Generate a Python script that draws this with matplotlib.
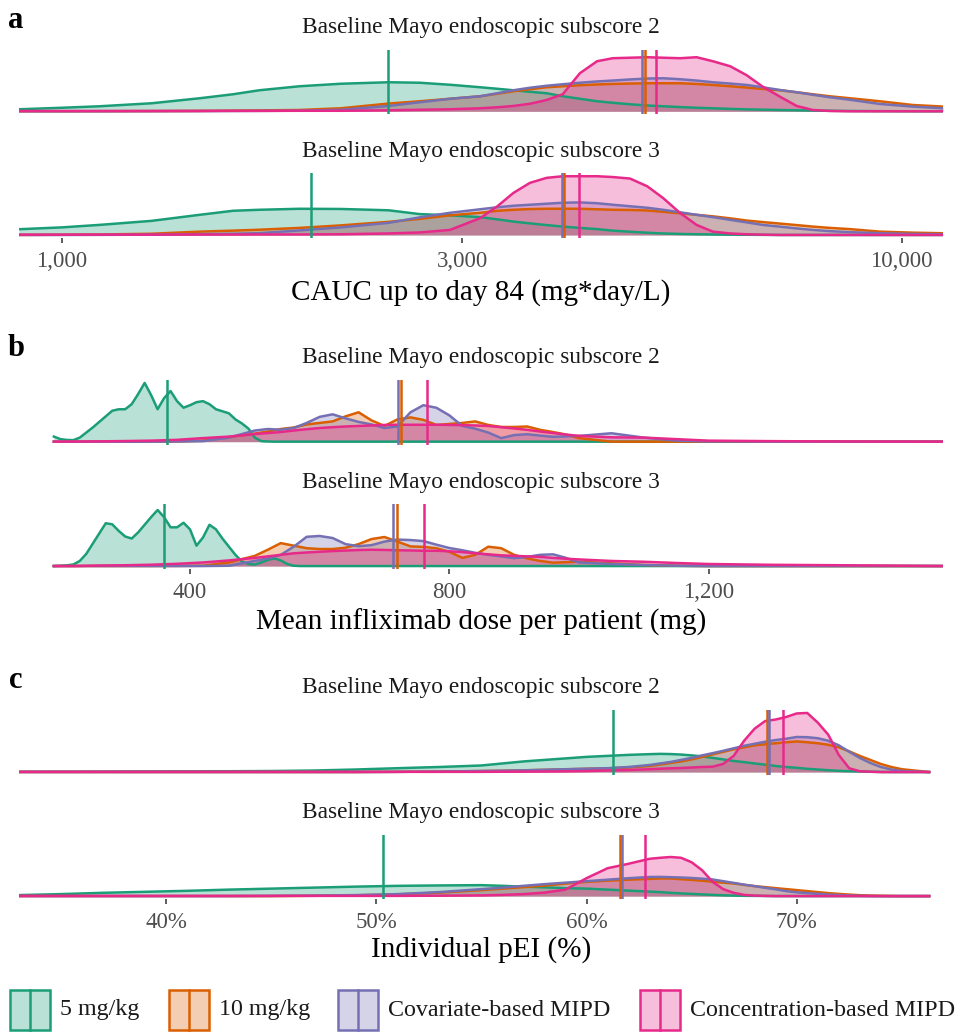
import matplotlib
matplotlib.use('Agg')
import matplotlib.pyplot as plt
from matplotlib.patches import Rectangle
from matplotlib.lines import Line2D
from matplotlib.ticker import FixedLocator, NullLocator

plt.rcParams['font.family'] = ['Liberation Serif', 'DejaVu Serif']

groups = ['5 mg/kg', '10 mg/kg', 'Covariate-based MIPD', 'Concentration-based MIPD']
colors = ['#1B9E77', '#D95F02', '#7570B3', '#E7298A']
facets = ['Baseline Mayo endoscopic subscore 2', 'Baseline Mayo endoscopic subscore 3']

# ---- a: cumulative AUC up to day 84 (density on log10 scale) ----
cauc_grid = [890, 1000, 1110, 1280, 1460, 1600, 1720, 1920, 2150, 2450, 2670, 2900, 3150,
             3300, 3450, 3610, 3780, 3950, 4140, 4340, 4530, 4750, 4980, 5200, 5450, 5700,
             5960, 6250, 6540, 6830, 7160, 7500, 7840, 8210, 8680, 9420, 10300, 11200]

cauc_s2_5mg = [2, 3.5, 5, 8, 13, 17, 21, 25, 27.5, 29, 28.5, 26.5, 24, 22.5, 21, 19.5, 18, 15, 12.5,
               10, 8.5, 7, 5.8, 5, 4.2, 3.5, 3, 2.4, 1.9, 1.6, 1.3, 1, 0.7, 0.5, 0.3, 0.1, 0, 0]
cauc_s2_10mg = [0, 0, 0.1, 0.2, 0.4, 0.6, 0.9, 1.3, 3, 7.7, 10, 12.5, 15, 17.5, 20, 22, 24, 25, 26,
                26.8, 27.3, 27.7, 28, 28, 28, 27.3, 26.3, 25, 23.7, 22.3, 21, 19, 17, 15, 13, 10, 6.3, 4.7]
cauc_s2_cov = [0, 0, 0, 0.1, 0.2, 0.3, 0.4, 0.6, 1.5, 5.3, 9, 12.5, 15, 18, 21, 23.5, 25.5, 27, 28.5,
               29.8, 30.7, 31.8, 32.7, 33, 32, 30.7, 29, 27.7, 26.3, 24, 21.3, 19, 16.5, 14, 11.5, 7.3, 4.7, 3]
cauc_s2_conc = [0.3, 0.3, 0.3, 0.3, 0.3, 0.4, 0.4, 0.5, 0.5, 1, 1.5, 2, 3, 4, 5.3, 7.5, 11.3, 17, 38,
                50, 53, 53.5, 54, 53.5, 53, 54, 50, 45, 36, 24.7, 14.7, 5.3, 1.3, 0.3, 0, 0, 0, 0]

cauc_s3_5mg = [5.7, 7.5, 10, 14, 20, 24, 25, 26, 25.8, 24.5, 20.7, 19.5, 17.7, 15.5, 13.3, 11.5, 9.8, 8.3,
               7, 5.8, 4.3, 3.2, 2.2, 1.5, 1, 0.7, 0.5, 0.3, 0.2, 0.1, 0, 0, 0, 0, 0, 0, 0, 0]
cauc_s3_10mg = [0, 0.2, 0.5, 1.2, 3.3, 4.3, 5.2, 7, 9.5, 13, 16, 19.5, 22, 24, 25, 25.7, 26, 26, 26,
                25.5, 25, 24.8, 24.3, 23, 21.5, 20, 18.5, 16.5, 14.3, 12.8, 11.3, 9.8, 8.3, 7, 5.8, 3.3, 2.3, 1.7]
cauc_s3_cov = [0, 0, 0.1, 0.3, 0.8, 1.2, 1.8, 4.5, 7.5, 12, 17.5, 22, 25.5, 27.5, 29, 30, 31, 32, 32.3,
               31.5, 30, 28.5, 27, 25, 22.5, 20, 17.7, 15, 12.5, 10, 8.3, 6.5, 5, 3.8, 2.8, 1.7, 1, 0.7]
cauc_s3_conc = [0.3, 0.3, 0.3, 0.3, 0.4, 0.4, 0.5, 0.5, 0.7, 1.5, 2.5, 5, 16.7, 28.3, 41.7, 51.7, 56.7,
                58.3, 58.3, 58.3, 57.5, 56, 48.3, 36.7, 21.7, 10, 3.3, 1.5, 0.7, 0.3, 0, 0, 0, 0, 0, 0, 0, 0]

cauc_med_s2 = [2450, 4950, 4910, 5100]
cauc_med_s3 = [1980, 3960, 3940, 4130]

# ---- b: mean infliximab dose per patient (mg) ----
dose_grid_5mg = [190, 200, 210, 220, 230, 240, 250, 260, 270, 280, 290, 300, 310, 320, 330, 340,
                 350, 360, 370, 380, 390, 400, 410, 420, 430, 440, 450, 460, 470, 480, 490, 500,
                 510, 520, 530, 540, 550, 560, 570, 580, 590, 600, 1560]
dose_grid = [190, 220, 260, 300, 340, 380, 420, 460, 500, 520, 540, 560, 580, 600, 620, 640, 660,
             680, 700, 720, 740, 760, 780, 800, 820, 840, 860, 880, 900, 920, 940, 960, 980, 1000,
             1050, 1100, 1150, 1200, 1300, 1400, 1560]

dose_s2_5mg = [5, 2.5, 1.7, 1.5, 4, 9, 14, 19.5, 25, 30.5, 32, 32, 37, 47, 58, 46, 32, 43, 50, 40,
               33.5, 36, 39, 40, 37, 32, 30, 28, 22, 18, 13, 4, 0.5, 0.2, 0, 0, 0, 0, 0, 0, 0, 0, 0]
dose_s2_10mg = [0, 0, 0, 0, 0, 0.2, 1, 4.5, 8, 10, 12.5, 14, 17, 18.5, 20, 25, 29, 21, 15.5, 22, 24,
                21.5, 16.5, 17.5, 18.5, 20, 16.5, 14.5, 14.5, 15, 11.7, 9.5, 7, 3.5, 0, 0, 0, 0, 0, 0, 0]
dose_s2_cov = [0, 0, 0, 0, 0, 0.2, 0.5, 4, 11, 12.5, 11.8, 13.5, 18.5, 24.5, 27, 23, 19.5, 17, 13.5,
               15, 29, 36, 33.5, 26, 15.5, 12.8, 9, 3.5, 6.5, 7.3, 6, 4.8, 5.2, 5.7, 8.3, 4, 1, 0.2, 0, 0, 0]
dose_s2_conc = [0, 0.1, 0.3, 0.6, 1, 1.8, 3.5, 5, 7.5, 8.5, 9.5, 11, 12.3, 13.5, 14.3, 15, 15.5, 16,
                16.5, 16.7, 16.7, 16.7, 16.7, 16.5, 16.3, 16, 15.5, 14.3, 13, 11.7, 10, 8.5, 7, 5.7,
                4.3, 4, 2.5, 1, 0.5, 0.2, 0]

dose_s3_5mg = [0, 0.3, 0.7, 1.5, 5, 12, 22, 32, 42, 41, 34.5, 29, 27, 33, 40.5, 48, 55, 48, 38, 38,
               42.5, 36, 20, 28, 40.5, 36, 27, 19, 11, 4.5, 2, 1.5, 3.5, 6, 7.5, 5.5, 2, 0.3, 0, 0, 0, 0, 0]
dose_s3_10mg = [0, 0, 0, 0, 0, 0.1, 0.3, 3.5, 10, 16, 22.5, 20, 17.5, 16.7, 16.7, 18, 21.5, 26.5,
                28.5, 24, 19.3, 18.8, 17.5, 14, 8, 11, 19, 17.5, 11, 7.5, 5, 3.3, 3.8, 4.3, 2.7, 1.1,
                0.3, 0, 0, 0, 0]
dose_s3_cov = [0, 0, 0, 0, 0, 0, 0, 0.3, 5, 7.5, 11, 19, 28.7, 29.5, 27.5, 21.5, 19.5, 20.5, 24, 26,
               25.5, 24.5, 21, 17.7, 15.5, 13, 11, 9.5, 7.7, 9, 11, 11.5, 8, 3.5, 2, 1, 0.3, 0, 0, 0, 0]
dose_s3_conc = [0, 0, 0.5, 0.8, 1.3, 2.2, 3.5, 5.5, 8, 9.5, 11, 12.5, 13.3, 14, 14.7, 15.2, 15.7, 16,
                15.8, 15.5, 15.3, 15, 15, 14.5, 13.7, 12.5, 11.5, 10.5, 10, 9.5, 9, 8, 7.2, 6.5, 5,
                4.2, 3, 2, 1.2, 0.8, 0]

dose_med_s2 = [364, 726, 721, 765]
dose_med_s3 = [360, 719, 713, 761]

# ---- c: individual probability of endoscopic improvement (%) ----
pei_grid = [33, 35, 37, 39, 41, 43, 45, 47, 49, 51, 53, 55, 56, 57, 58, 59, 60, 61, 62, 63, 63.5,
            64, 64.5, 65, 65.5, 66, 66.5, 67, 67.5, 68, 68.5, 69, 69.5, 70, 70.5, 71, 71.5, 72,
            72.5, 73, 73.5, 74, 74.5, 75, 76.3]

pei_s2_5mg = [0.3, 0.4, 0.5, 0.6, 0.7, 0.8, 1, 1.5, 2.5, 3.8, 5, 6.5, 8.5, 10.5, 12, 13.5, 15, 16,
              17, 17.7, 18, 17.8, 17.3, 16.5, 15.5, 14, 12.5, 11, 9.8, 8.5, 7.3, 6, 5, 4.2, 3.2,
              2.5, 1.8, 1.2, 0.8, 0.6, 0.3, 0.1, 0, 0, 0]
pei_s2_10mg = [0, 0, 0, 0, 0, 0, 0, 0, 0, 0.2, 0.5, 1, 1.3, 1.7, 2.2, 2.7, 3.2, 3.7, 4.5, 6, 7.5, 9,
               10.5, 12.5, 15, 17.5, 20, 22.5, 24.5, 26.5, 27.5, 28.5, 29.5, 30.3, 29.5, 28.5, 27,
               24.5, 20.5, 16, 12, 8, 5, 2.8, 0]
pei_s2_cov = [0, 0, 0, 0, 0, 0, 0, 0, 0, 0.2, 0.5, 1, 1.3, 1.7, 2.2, 2.8, 3.3, 3.8, 5, 7, 8.5, 10,
              12, 14, 16.5, 18.7, 21, 23.5, 26, 28, 30, 31.7, 33, 34.7, 34.5, 33.5, 31, 26.5, 20,
              14, 9, 5, 2.5, 1, 0]
pei_s2_conc = [0.2, 0.2, 0.2, 0.2, 0.2, 0.2, 0.2, 0.2, 0.2, 0.2, 0.2, 0.2, 0.3, 0.4, 0.5, 0.7, 1,
               1.5, 2, 2.8, 3.3, 3.7, 4, 4.5, 5, 5.3, 8, 16, 31, 43, 50.5, 52, 54.5, 58, 58.5, 49,
               37, 17, 3.7, 0.8, 0.3, 0, 0, 0, 0]

pei_s3_5mg = [1, 2, 3.3, 4.3, 5.3, 6.5, 7.5, 8.5, 9.5, 10.3, 10.7, 11, 10.3, 9.5, 8.8, 8, 7.5, 6.5,
              5.5, 4.5, 4, 3.3, 2.7, 2.2, 1.7, 1.2, 0.8, 0.5, 0.3, 0.2, 0.1, 0, 0, 0, 0, 0, 0, 0,
              0, 0, 0, 0, 0, 0, 0]
pei_s3_10mg = [0, 0, 0, 0, 0, 0, 0, 0.3, 0.8, 1.7, 3.5, 6, 7.5, 9, 10.5, 12.5, 14.3, 15.5, 16.5,
               17.3, 17.7, 17.7, 17, 16.3, 15.5, 14.5, 13.5, 12.7, 11.3, 10, 9, 8, 7, 6, 5, 4, 3,
               2.2, 1.5, 0.9, 0.5, 0.3, 0.1, 0, 0]
pei_s3_cov = [0, 0, 0, 0, 0, 0, 0.2, 0.5, 1, 2, 4, 7, 8.5, 10.3, 12, 13.5, 15, 16.5, 18, 19.2, 19.3,
              19, 18.7, 18.2, 17.5, 16.7, 15, 13.3, 11.5, 10, 8.3, 6.8, 5, 3.8, 3, 2.3, 1.5, 1,
              0.6, 0.3, 0.1, 0, 0, 0, 0]
pei_s3_conc = [0.2, 0.2, 0.2, 0.2, 0.2, 0.2, 0.2, 0.2, 0.2, 0.2, 0.4, 0.7, 1.2, 2, 3.5, 6.5, 18, 28,
               32.5, 37.5, 38.5, 39.3, 38.5, 34, 26, 14.3, 7, 3.3, 1.2, 0.5, 0.2, 0, 0, 0, 0, 0, 0,
               0, 0, 0, 0, 0, 0, 0, 0]

pei_med_s2 = [61.25, 68.6, 68.7, 69.34]
pei_med_s3 = [50.32, 61.57, 61.68, 62.79]

W, H = 962, 1036
LW = 1.8
fig = plt.figure(figsize=(W / 100, H / 100), dpi=100)


def px_axes(top, bottom, left=19, right=943):
    return fig.add_axes([left / W, 1 - bottom / H, (right - left) / W, (bottom - top) / H])


def fig_text(x, y, s, **kw):
    fig.text(x / W, 1 - y / H, s, **kw)


panels = [
    dict(letter='a', letter_y=20,
         rows=[(50, 114.2, 27), (173.3, 237.9, 151.7)],
         grids=[[cauc_grid] * 4, [cauc_grid] * 4],
         dens=[[cauc_s2_5mg, cauc_s2_10mg, cauc_s2_cov, cauc_s2_conc],
               [cauc_s3_5mg, cauc_s3_10mg, cauc_s3_cov, cauc_s3_conc]],
         meds=[cauc_med_s2, cauc_med_s3],
         log=True, xlim=(890, 11200),
         ticks=[1000, 3000, 10000], ticklabels=['1,000', '3,000', '10,000'],
         title='CAUC up to day 84 (mg*day/L)', title_y=293),
    dict(letter='b', letter_y=348,
         rows=[(380, 444.6, 358), (504, 569, 482)],
         grids=[[dose_grid_5mg, dose_grid, dose_grid, dose_grid]] * 2,
         dens=[[dose_s2_5mg, dose_s2_10mg, dose_s2_cov, dose_s2_conc],
               [dose_s3_5mg, dose_s3_10mg, dose_s3_cov, dose_s3_conc]],
         meds=[dose_med_s2, dose_med_s3],
         log=False, xlim=(136.2, 1561.5),
         ticks=[400, 800, 1200], ticklabels=['400', '800', '1,200'],
         title='Mean infliximab dose per patient (mg)', title_y=622),
    dict(letter='c', letter_y=680,
         rows=[(710, 775, 688), (835, 899, 812.7)],
         grids=[[pei_grid] * 4, [pei_grid] * 4],
         dens=[[pei_s2_5mg, pei_s2_10mg, pei_s2_cov, pei_s2_conc],
               [pei_s3_5mg, pei_s3_10mg, pei_s3_cov, pei_s3_conc]],
         meds=[pei_med_s2, pei_med_s3],
         log=False, xlim=(33.0, 76.96),
         ticks=[40, 50, 60, 70], ticklabels=['40%', '50%', '60%', '70%'],
         title='Individual pEI (%)', title_y=950),
]

for p in panels:
    ymax = max(max(d) for row in p['dens'] for d in row)
    for r, (top, bottom, strip_y) in enumerate(p['rows']):
        ax = px_axes(top, bottom)
        if p['log']:
            ax.set_xscale('log')
        for xs, ys, col in zip(p['grids'][r], p['dens'][r], colors):
            ax.fill_between(xs, 0, ys, color=col, alpha=0.3, lw=0)
            ax.plot(xs, ys, color=col, lw=LW, solid_joinstyle='round')
        for m, col in zip(p['meds'][r], colors):
            ax.axvline(m, color=col, lw=LW)
        ax.set_xlim(*p['xlim'])
        ax.set_ylim(-0.05 * ymax, 1.05 * ymax)
        ax.set_yticks([])
        for s in ax.spines.values():
            s.set_visible(False)
        ax.patch.set_visible(False)
        ax.xaxis.set_minor_locator(NullLocator())
        if r == 1:
            ax.xaxis.set_major_locator(FixedLocator(p['ticks']))
            ax.set_xticklabels(p['ticklabels'])
            ax.tick_params(axis='x', length=3.6, width=1.1, color='#333333',
                           labelsize=16.5, labelcolor='#4D4D4D', pad=6)
        else:
            ax.set_xticks([])
        fig_text(481, strip_y, facets[r], ha='center', va='center',
                 fontsize=16.8, color='#1A1A1A')
    fig_text(481, p['title_y'], p['title'], ha='center', va='center', fontsize=21)
    fig_text(16, p['letter_y'], p['letter'], ha='center', va='center',
             fontsize=22, fontweight='bold')

# legend along the bottom
key_left = [10, 169, 338, 640]
key_top, key_size = 990, 40
for x0, lab, col in zip(key_left, groups, colors):
    fx, fy = x0 / W, 1 - (key_top + key_size) / H
    fw, fh = key_size / W, key_size / H
    fig.add_artist(Rectangle((fx, fy), fw, fh, transform=fig.transFigure,
                             facecolor=col, alpha=0.3, lw=0))
    fig.add_artist(Rectangle((fx, fy), fw, fh, transform=fig.transFigure,
                             facecolor='none', edgecolor=col, lw=LW))
    fig.add_artist(Line2D([fx + fw / 2] * 2, [fy, fy + fh], transform=fig.transFigure,
                          color=col, lw=LW))
    fig_text(x0 + key_size + 10, key_top + key_size / 2, lab, ha='left', va='center',
             fontsize=17.3, color='#1A1A1A')

fig.savefig('out.png', dpi=100, facecolor='white')
